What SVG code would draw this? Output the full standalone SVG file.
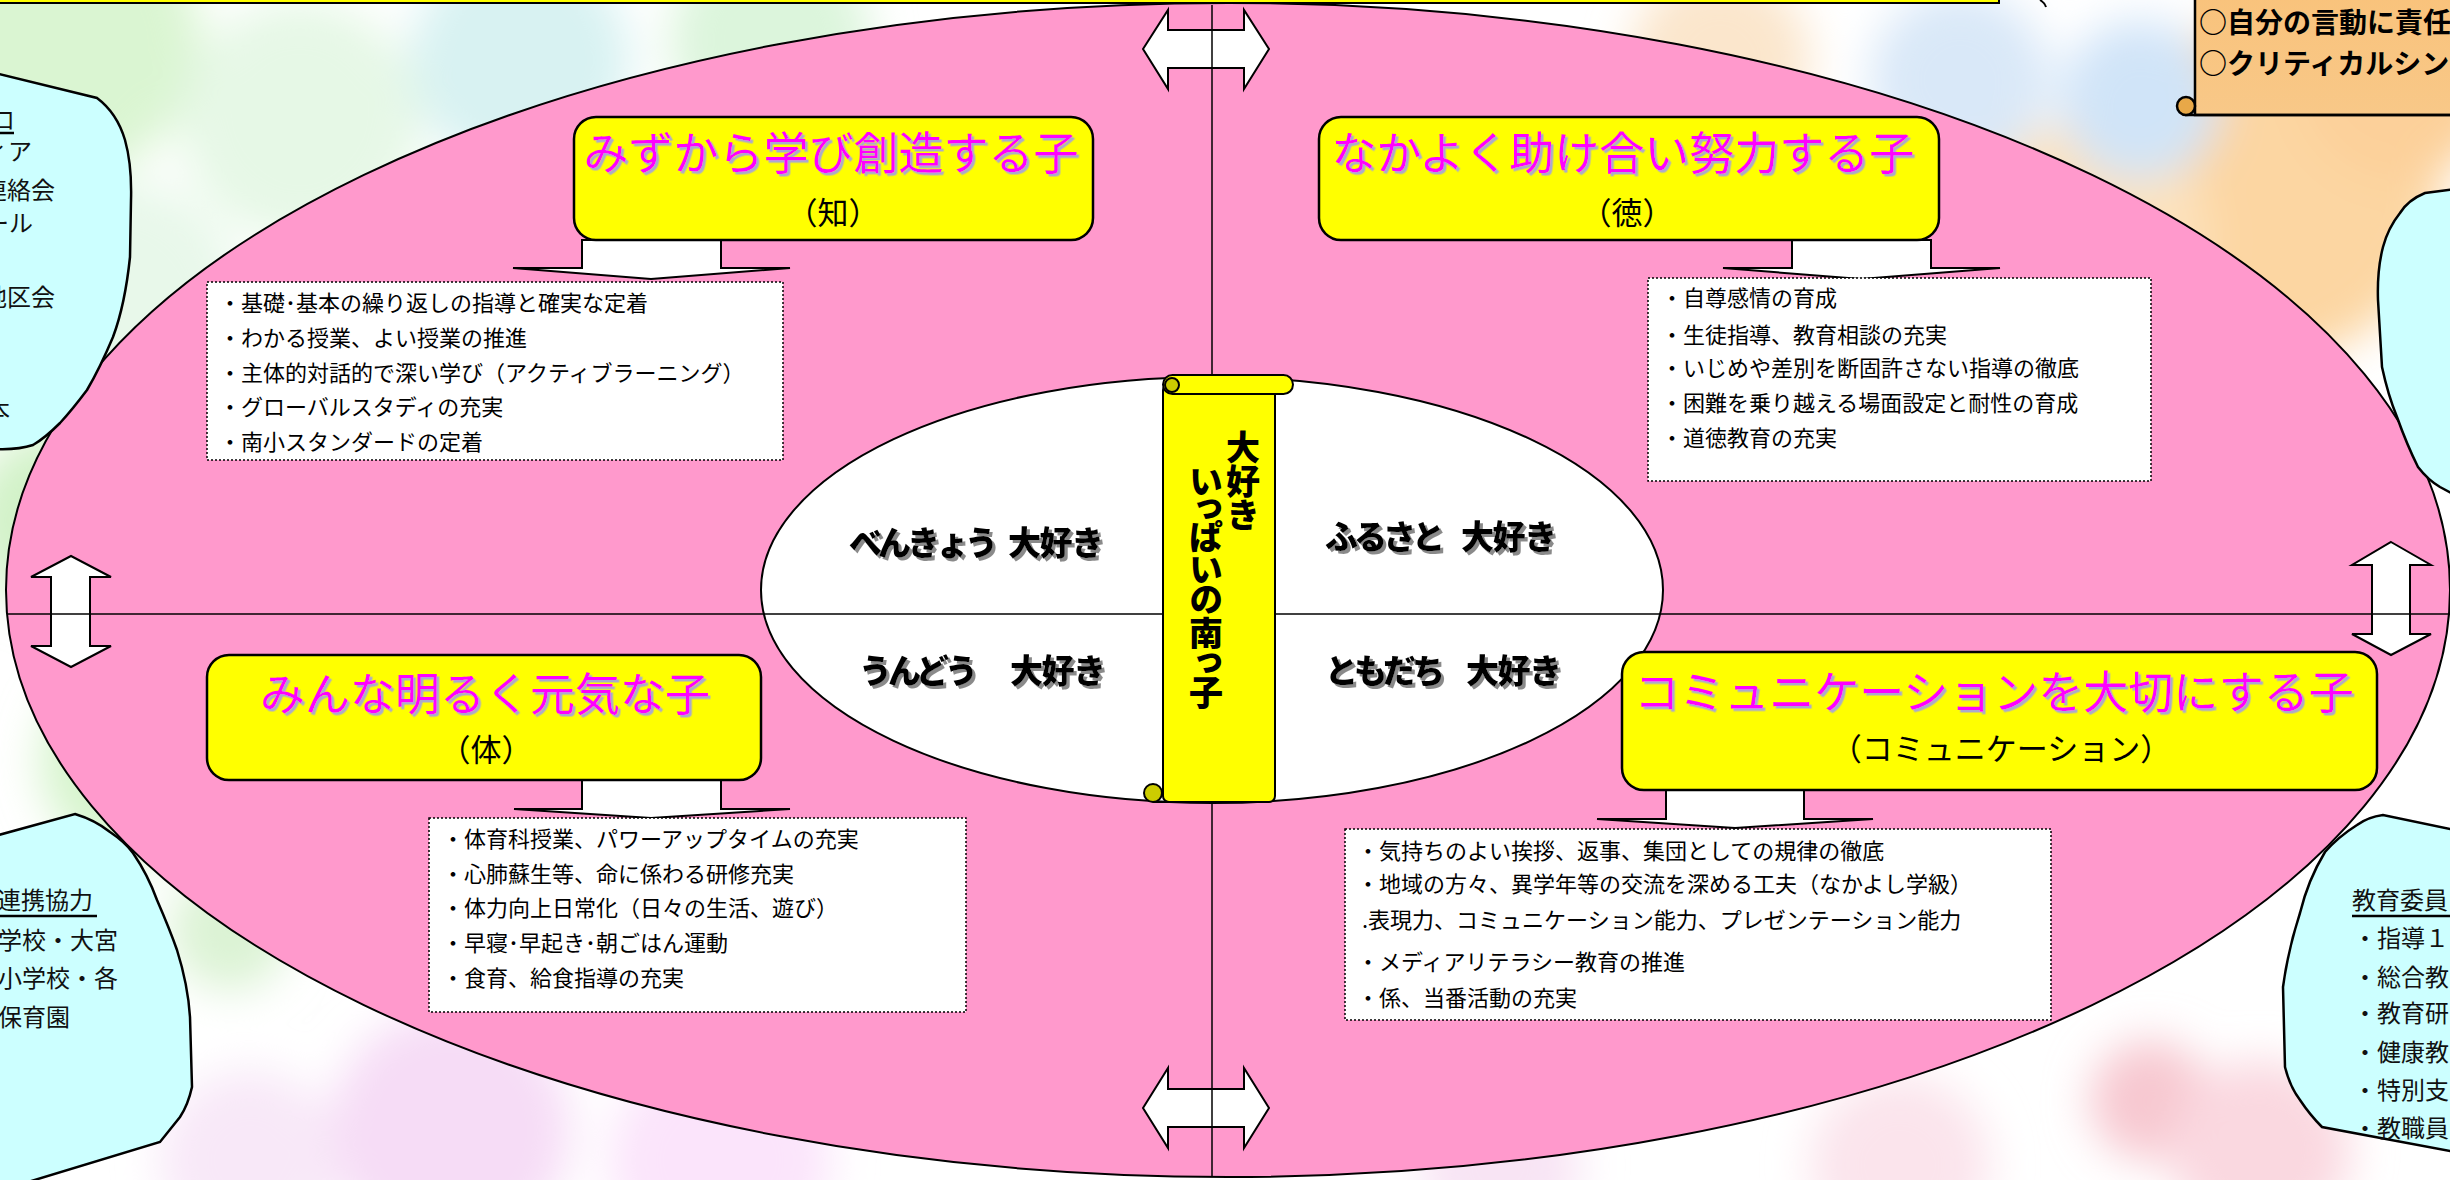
<svg xmlns="http://www.w3.org/2000/svg" width="2450" height="1180" viewBox="0 0 2450 1180">
<defs>
<style>
.jp{font-family:"Noto Sans CJK JP","Noto Sans CJK SC",sans-serif}
.title{font-size:45px;fill:#ff00ff;text-anchor:middle;filter:url(#shT)}
.sub{font-size:31px;fill:#000;text-anchor:middle}
.item{font-size:22px;fill:#000}
.lbl{font-size:33px;font-weight:900;fill:#000;letter-spacing:-1.5px;filter:url(#shL)}
.kana{letter-spacing:-4px}
.blob{fill:#ccffff;stroke:#000;stroke-width:2.5}
.btxt{font-size:24px;fill:#111}
.ybox{fill:#ffff00;stroke:#000;stroke-width:2.5}
.dbox{fill:#fff;stroke:#000;stroke-width:1.5;stroke-dasharray:2 2}
.warrow{fill:#fff;stroke:#000;stroke-width:2;stroke-linejoin:miter}
.axis{stroke:#000;stroke-width:1.5;fill:none}
.ul{stroke:#000;stroke-width:2.5}
.scrolltxt{font-size:34px;font-weight:900;fill:#000;writing-mode:vertical-rl}
.otxt{font-size:28px;font-weight:700;fill:#000}
</style>
<filter id="shT" x="-5%" y="-20%" width="110%" height="140%"><feDropShadow dx="2.5" dy="2.5" stdDeviation="0" flood-color="#aaaacc"/></filter>
<filter id="shL" x="-5%" y="-20%" width="110%" height="140%"><feDropShadow dx="3" dy="3" stdDeviation="0.5" flood-color="#8a8a8a"/></filter>
<filter id="blur" x="-50%" y="-50%" width="200%" height="200%"><feGaussianBlur stdDeviation="22"/></filter>
<linearGradient id="org" x1="0" y1="0" x2="0" y2="1"><stop offset="0" stop-color="#f9c27a"/><stop offset="1" stop-color="#f8c888"/></linearGradient>
</defs>

<rect x="0" y="0" width="2450" height="1180" fill="#ffffff"/>
<g id="background" filter="url(#blur)">
<circle cx="60" cy="40" r="140" fill="#daf5d2"/>
<circle cx="300" cy="120" r="120" fill="#e6f8e6"/>
<circle cx="520" cy="60" r="110" fill="#d8f2f2"/>
<circle cx="770" cy="40" r="100" fill="#dcf5dc"/>
<circle cx="120" cy="300" r="120" fill="#e8f8ea"/>
<circle cx="60" cy="520" r="90" fill="#d2f2c8"/>
<circle cx="140" cy="760" r="100" fill="#d6f4cc"/>
<circle cx="230" cy="930" r="60" fill="#dbf3d4"/>
<circle cx="450" cy="1130" r="120" fill="#f6dcf6"/>
<circle cx="720" cy="1160" r="110" fill="#fbe4fb"/>
<circle cx="250" cy="1160" r="90" fill="#f8e8f8"/>
<circle cx="2270" cy="190" r="170" fill="#fcd6a2"/>
<circle cx="2090" cy="240" r="120" fill="#fde2bc"/>
<circle cx="1960" cy="80" r="90" fill="#d9e8f8"/>
<circle cx="2140" cy="100" r="80" fill="#d0e4f8"/>
<circle cx="1720" cy="60" r="90" fill="#fbe6cc"/>
<circle cx="2400" cy="80" r="100" fill="#fcd09a"/>
<circle cx="2150" cy="1100" r="60" fill="#f7c8d0"/>
<circle cx="2260" cy="1150" r="90" fill="#fad8e0"/>
<circle cx="1900" cy="1165" r="90" fill="#fbe4ec"/>
<circle cx="2420" cy="1010" r="80" fill="#f8dde4"/>
<circle cx="1500" cy="1165" r="80" fill="#f8e4f4"/>
</g>

<g id="top-banner">
<rect x="-5" y="-20" width="2004" height="23" fill="#ffff00" stroke="#000" stroke-width="2"/>
<path d="M2040,0 Q2045,3 2046,7" fill="none" stroke="#000" stroke-width="2"/>
</g>

<g id="policy-scroll">
<rect x="2195" y="-20" width="270" height="135" fill="url(#org)" stroke="#000" stroke-width="2.5"/>
<line x1="2185" y1="115" x2="2455" y2="115" stroke="#000" stroke-width="2.5"/>
<circle cx="2186" cy="106" r="9" fill="#e8a848" stroke="#000" stroke-width="2.5"/>
<text class="jp otxt" x="2199" y="33">○自分の言動に責任</text>
<text class="jp otxt" x="2199" y="74">○クリティカルシン</text>
</g>

<g id="main-ellipse">
<ellipse cx="1228" cy="590" rx="1222" ry="587" fill="#ff99cc" stroke="#000" stroke-width="2"/>
</g>

<g id="blob-top-left">
<path class="blob" d="M-5,73 L97,98 Q117,113 125,140 Q132,165 131,200 L130,257 Q125,305 113,337 Q100,368 87,390 Q72,410 60,423 Q45,438 33,445 Q18,450 -5,449 Z"/>
<text class="jp btxt" x="-9" y="129">ロ</text>
<line class="ul" x1="0" y1="133" x2="14" y2="133"/>
<text class="jp btxt" x="-16" y="160">ィア</text>
<text class="jp btxt" x="-17" y="199">連絡会</text>
<text class="jp btxt" x="-15" y="232">ール</text>
<text class="jp btxt" x="-17" y="306">地区会</text>
<text class="jp btxt" x="-14" y="419">本</text>
</g>

<g id="blob-bottom-left">
<path class="blob" d="M-5,836 L75,814 Q95,820 110,832 Q125,842 133,853 Q148,875 157,900 Q170,930 177,950 Q188,985 190,1017 L192,1087 Q188,1105 180,1117 L160,1142 L-5,1192 Z"/>
<text class="jp btxt" x="-3" y="909">連携協力</text>
<line class="ul" x1="0" y1="916" x2="97" y2="916"/>
<text class="jp btxt" x="-2" y="949">学校・大宮</text>
<text class="jp btxt" x="-2" y="987">小学校・各</text>
<text class="jp btxt" x="-2" y="1026">保育園</text>
</g>

<g id="blob-top-right">
<path class="blob" d="M2455,189 L2425,193 Q2408,200 2400,213 Q2388,228 2383,247 Q2377,270 2378,300 L2382,367 Q2388,395 2397,417 Q2407,445 2418,467 Q2428,480 2440,487 L2455,495 Z"/>
</g>

<g id="blob-bottom-right">
<path class="blob" d="M2455,830 L2383,815 Q2368,817 2357,825 Q2338,837 2325,852 Q2308,880 2300,913 Q2288,950 2283,987 L2285,1067 Q2290,1087 2300,1100 Q2310,1115 2322,1127 L2455,1152 Z"/>
<text class="jp btxt" x="2352" y="909">教育委員</text>
<line class="ul" x1="2352" y1="916" x2="2452" y2="916"/>
<text class="jp btxt" x="2353" y="947">・指導１</text>
<text class="jp btxt" x="2353" y="986">・総合教</text>
<text class="jp btxt" x="2353" y="1022">・教育研</text>
<text class="jp btxt" x="2353" y="1061">・健康教</text>
<text class="jp btxt" x="2353" y="1099">・特別支</text>
<text class="jp btxt" x="2353" y="1137">・教職員</text>
</g>

<g id="inner-ellipse">
<ellipse cx="1212" cy="590" rx="451" ry="213" fill="#fff" stroke="#000" stroke-width="2"/>
</g>

<g id="connectors">
<path id="arrow-top" class="warrow" d="M1143,49 L1168,10 L1168,30 L1244,30 L1244,10 L1269,49 L1244,89 L1244,68 L1168,68 L1168,89 Z"/>
<path id="arrow-bottom" class="warrow" d="M1143,1108 L1168,1068 L1168,1089 L1244,1089 L1244,1068 L1269,1108 L1244,1148 L1244,1127 L1168,1127 L1168,1148 Z"/>
<path id="arrow-left" class="warrow" d="M71,556 L111,577 L90,577 L90,646 L111,646 L71,667 L31,646 L51,646 L51,577 L31,577 Z"/>
<path id="arrow-right" class="warrow" d="M2391,542 L2431,565 L2410,565 L2410,634 L2431,634 L2391,655 L2352,634 L2372,634 L2372,565 L2352,565 Z"/>
<line class="axis" x1="1212" y1="5" x2="1212" y2="1177"/>
<line class="axis" x1="7" y1="614" x2="2450" y2="614"/>
<path class="warrow" d="M582,240 L721,240 L721,268 L790,268 L651,279 L513,268 L582,268 Z"/>
<path class="warrow" d="M1792,240 L1931,240 L1931,268 L2000,268 L1861,279 L1723,268 L1792,268 Z"/>
<path class="warrow" d="M582,780 L721,780 L721,809 L790,809 L651,818 L514,809 L582,809 Z"/>
<path class="warrow" d="M1666,790 L1804,790 L1804,819 L1873,819 L1735,828 L1597,819 L1666,819 Z"/>
</g>

<g id="node-chi">
<rect class="ybox" x="574" y="117" width="519" height="123" rx="22"/>
<text class="jp title" x="831" y="170">みずから学び創造する子</text>
<text class="jp sub" x="833" y="224">（知）</text>
</g>
<g id="node-toku">
<rect class="ybox" x="1319" y="117" width="620" height="123" rx="22"/>
<text class="jp title" x="1623" y="170">なかよく助け合い努力する子</text>
<text class="jp sub" x="1627" y="224">（徳）</text>
</g>
<g id="node-tai">
<rect class="ybox" x="207" y="655" width="554" height="125" rx="22"/>
<text class="jp title" x="485" y="711">みんな明るく元気な子</text>
<text class="jp sub" x="486" y="761">（体）</text>
</g>
<g id="node-comm">
<rect class="ybox" x="1622" y="652" width="755" height="138" rx="22"/>
<text class="jp title" x="1994" y="709">コミュニケーションを大切にする子</text>
<text class="jp sub" x="2001" y="760">（コミュニケーション）</text>
</g>

<g id="list-chi">
<rect class="dbox" x="207" y="282" width="576" height="178"/>
<text class="jp item" x="219" y="311">・基礎･基本の繰り返しの指導と確実な定着</text>
<text class="jp item" x="219" y="346">・わかる授業、よい授業の推進</text>
<text class="jp item" x="219" y="381">・主体的対話的で深い学び（アクティブラーニング）</text>
<text class="jp item" x="219" y="415">・グローバルスタディの充実</text>
<text class="jp item" x="219" y="450">・南小スタンダードの定着</text>
</g>
<g id="list-toku">
<rect class="dbox" x="1648" y="278" width="503" height="203"/>
<text class="jp item" x="1661" y="306">・自尊感情の育成</text>
<text class="jp item" x="1661" y="343">・生徒指導、教育相談の充実</text>
<text class="jp item" x="1661" y="376">・いじめや差別を断固許さない指導の徹底</text>
<text class="jp item" x="1661" y="411">・困難を乗り越える場面設定と耐性の育成</text>
<text class="jp item" x="1661" y="446">・道徳教育の充実</text>
</g>
<g id="list-tai">
<rect class="dbox" x="429" y="818" width="537" height="194"/>
<text class="jp item" x="442" y="847">・体育科授業、パワーアップタイムの充実</text>
<text class="jp item" x="442" y="882">・心肺蘇生等、命に係わる研修充実</text>
<text class="jp item" x="442" y="916">・体力向上日常化（日々の生活、遊び）</text>
<text class="jp item" x="442" y="951">・早寝･早起き･朝ごはん運動</text>
<text class="jp item" x="442" y="986">・食育、給食指導の充実</text>
</g>
<g id="list-comm">
<rect class="dbox" x="1345" y="829" width="706" height="191"/>
<text class="jp item" x="1357" y="859">・気持ちのよい挨拶、返事、集団としての規律の徹底</text>
<text class="jp item" x="1357" y="892">・地域の方々、異学年等の交流を深める工夫（なかよし学級）</text>
<text class="jp item" x="1362" y="928">.表現力、コミュニケーション能力、プレゼンテーション能力</text>
<text class="jp item" x="1357" y="970">・メディアリテラシー教育の推進</text>
<text class="jp item" x="1357" y="1006">・係、当番活動の充実</text>
</g>

<g id="center-scroll">
<rect x="1163" y="384" width="112" height="418" rx="6" fill="#ffff00" stroke="#000" stroke-width="2"/>
<rect x="1163" y="375" width="130" height="19" rx="9.5" fill="#ffff00" stroke="#000" stroke-width="2"/>
<circle cx="1172" cy="385" r="7" fill="#cccc00" stroke="#000" stroke-width="2"/>
<circle cx="1153" cy="793" r="9" fill="#cccc00" stroke="#000" stroke-width="2"/>
<line x1="1153" y1="802" x2="1175" y2="802" stroke="#000" stroke-width="2"/>
<text class="jp scrolltxt" x="1243" y="430">大好き</text>
<text class="jp scrolltxt" x="1206" y="467" style="font-feature-settings:'vpal' 1">いっぱいの南っ子</text>
</g>

<g id="labels">
<text class="jp lbl" y="555"><tspan class="kana" x="849">べんきょう </tspan><tspan x="1008">大好き</tspan></text>
<text class="jp lbl" y="549"><tspan class="kana" x="1325">ふるさと </tspan><tspan x="1461">大好き</tspan></text>
<text class="jp lbl" y="683"><tspan class="kana" x="859">うんどう </tspan><tspan x="1010">大好き</tspan></text>
<text class="jp lbl" y="683"><tspan class="kana" x="1325">ともだち </tspan><tspan x="1466">大好き</tspan></text>
</g>
</svg>
